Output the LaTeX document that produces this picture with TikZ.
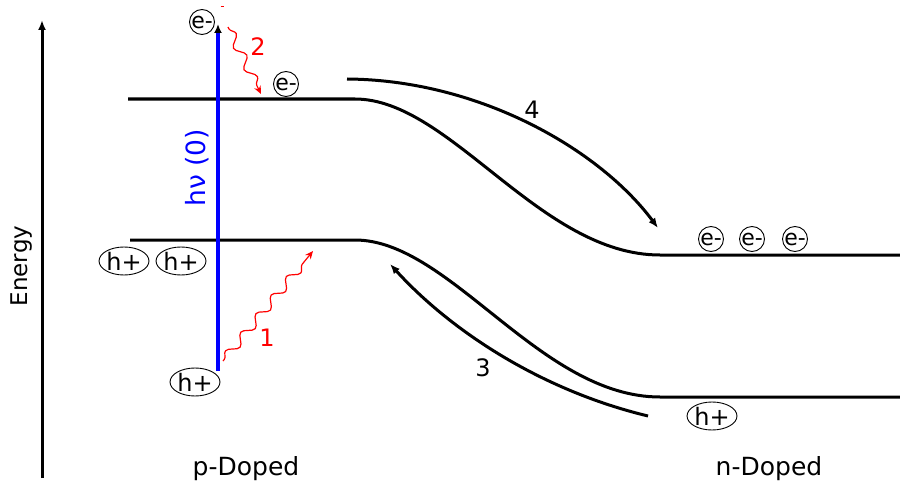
\documentclass[tikz,border=0pt]{standalone}
\usepackage{fontspec}
\setmainfont{DejaVu Sans}
\usetikzlibrary{arrows.meta,shapes.geometric,decorations.pathmorphing}
\begin{document}
\begin{tikzpicture}[x=1pt,y=-1pt,
  every node/.style={font=\fontsize{24}{28}\selectfont},
  small/.style={font=\fontsize{22}{26}\selectfont},
  band/.style={line width=3pt,black},
  bigarrow/.style={line width=3pt,-{Latex[length=10pt,width=8pt]}},
  wave/.style={red,line width=1.2pt,-{Stealth[length=8pt,width=7pt]},decorate,
     decoration={snake,amplitude=4.5pt,segment length=24pt,post length=7pt,pre length=2pt}},
  elec/.style={circle,draw,line width=0.9pt,inner sep=0pt,minimum size=25pt,small},
  hole/.style={ellipse,draw,line width=0.9pt,inner sep=0pt,minimum width=49pt,minimum height=28pt,
     font=\fontsize{24}{28}\selectfont},
  lab/.style={red}]
\useasboundingbox (0,0) rectangle (900,487);
% energy axis
\coordinate (ea) at (42,478);
\coordinate (eb) at (42,20);
\draw[line width=3pt,-{Latex[length=10pt,width=8pt]}] (ea) -- (eb);
\node[rotate=90,font=\fontsize{23}{27}\selectfont] (energy) at (22,266) {Energy};
% bands
\coordinate (c1) at (128,99);
\coordinate (c2) at (355,99);
\coordinate (c3) at (660,255);
\coordinate (c4) at (900,255);
\draw[band] (c1) -- (c2) .. controls (450,99) and (540,255) .. (c3) -- (c4);
\coordinate (v1) at (130,240);
\coordinate (v2) at (355,240);
\coordinate (v3) at (660,397);
\coordinate (v4) at (900,397);
\draw[band] (v1) -- (v2) .. controls (450,240) and (540,397) .. (v3) -- (v4);
% excitation
\coordinate (b1) at (218,371);
\coordinate (b2) at (218,24);
\draw[blue,line width=3.6pt,-{Latex[black,length=9pt,width=8pt]}] (b1) -- (b2);
\node[blue,rotate=90,font=\fontsize{26.5}{30}\selectfont] (hv) at (197,168) {hν (0)};
% carriers
\node[elec] (e0) at (202,22) {e-};
\node[elec] (e1) at (286,84) {e-};
\node[elec] (e2) at (711,239) {e-};
\node[elec] (e3) at (752,239) {e-};
\node[elec] (e4) at (795,239) {e-};
\node[hole] (h1) at (124,261) {h+};
\node[hole] (h2) at (181,261) {h+};
\node[hole] (h0) at (195,382) {h+};
\node[hole] (h3) at (712,416) {h+};
% relaxation
\coordinate (w1a) at (223,361);
\coordinate (w1b) at (313,251);
\draw[wave] (w1a) -- (w1b);
\node[lab] (l1) at (267,338) {1};
\coordinate (w2a) at (228,27);
\coordinate (w2b) at (261,94);
\draw[wave] (w2a) -- (w2b);
\node[lab] (l2) at (258,47) {2};
\coordinate (d1) at (220.5,7);
\coordinate (d2) at (224,7);
\draw[red,line width=1pt] (d1) -- (d2);
% drift arrows
\coordinate (a4s) at (347,79);
\coordinate (a4e) at (658,228);
\draw[bigarrow] (a4s) .. controls (480,80) and (600,150) .. (a4e);
\node (l4) at (532,110) {4};
\coordinate (a3s) at (648,416);
\coordinate (a3e) at (390,264);
\draw[bigarrow] (a3s) .. controls (540,390) and (450,330) .. (a3e);
\node (l3) at (483,368) {3};
% labels
\node[font=\fontsize{25}{29}\selectfont] (pd) at (246,469) {p-Doped};
\node[font=\fontsize{25}{29}\selectfont] (nd) at (769,469) {n-Doped};
\end{tikzpicture}
\end{document}
